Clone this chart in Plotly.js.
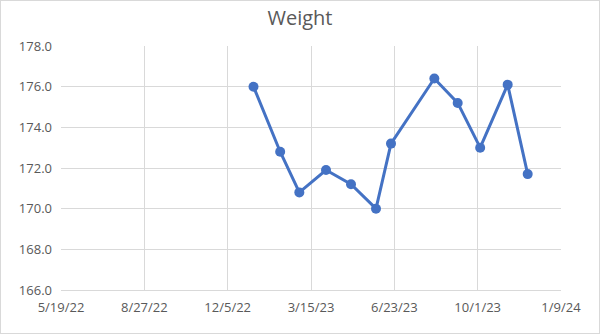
<!DOCTYPE html>
<html><head><meta charset="utf-8">
<script src="https://cdn.plot.ly/plotly-3.0.1.min.js"></script>
<style>
html,body{margin:0;padding:0;background:#fff;}
#wrap{width:600px;height:334px;box-sizing:border-box;border:1px solid #d9d9d9;}
#chart{width:598px;height:332px;}
</style></head>
<body><div id="wrap"><div id="chart"></div></div>
<script>
const dates = ["2023-01-05","2023-02-06","2023-03-01","2023-04-02","2023-05-02","2023-06-01","2023-06-19","2023-08-10","2023-09-07","2023-10-04","2023-11-06","2023-11-30"];
const weights = [176.0,172.8,170.8,171.9,171.2,170.0,173.2,176.4,175.2,173.0,176.1,171.7];
const yTicks = [166,168,170,172,174,176,178];

const font = "Open Sans, Liberation Sans, Arial, sans-serif";
const trace = {
  x: dates, y: weights, type: "scatter", mode: "lines+markers",
  line: {color: "#4472C4", width: 3},
  marker: {color: "#4472C4", size: 10},
  hoverinfo: "skip"
};
const layout = {
  width: 598, height: 332,
  margin: {l: 60, r: 38, t: 45, b: 43},
  paper_bgcolor: "#fff", plot_bgcolor: "#fff",
  title: {text: "Weight", x: 0.5, xanchor: "center", y: 0.95, yanchor: "middle",
          font: {family: font, size: 20, color: "#595959"}},
  showlegend: false,
  xaxis: {
    type: "date", range: ["2022-05-19", "2024-01-09"],
    tick0: "2022-05-19", dtick: 100*86400000, tickformat: "%-m/%-d/%y",
    showgrid: true, gridcolor: "#d9d9d9", gridwidth: 1,
    showline: true, linecolor: "#d9d9d9", linewidth: 1,
    zeroline: false, ticks: "", ticklabelstandoff: 5,
    tickfont: {family: font, size: 13, color: "#595959"}
  },
  yaxis: {
    range: [166, 178], tickvals: yTicks, tickformat: ".1f",
    showgrid: true, gridcolor: "#d9d9d9", gridwidth: 1,
    showline: false, zeroline: false, ticks: "", ticklabelstandoff: 8,
    tickfont: {family: font, size: 13, color: "#595959"}
  }
};
Plotly.newPlot("chart", [trace], layout, {displayModeBar: false, staticPlot: true});
</script></body></html>
